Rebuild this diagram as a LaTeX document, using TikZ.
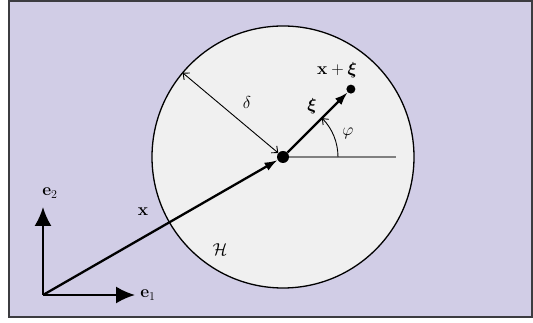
\documentclass[tikz,border=0pt]{standalone}
\usepackage{amsmath,amssymb,bm}
\usetikzlibrary{arrows.meta,calc}
\definecolor{lav}{RGB}{209,205,230}
\definecolor{disc}{RGB}{240,240,240}
\definecolor{frame}{RGB}{60,60,64}
\begin{document}
\begin{tikzpicture}[x=1pt,y=1pt,
  lbl/.style={font=\fontsize{18}{21}\selectfont, inner sep=0pt},
  bigarrow/.style={line width=2pt, -{Latex[length=19pt,width=17pt]}},
  vecarrow/.style={line width=2.3pt, -{Latex[length=13pt,width=9pt]}},
  thinarrow/.style={line width=0.9pt, {Straight Barb[length=5pt,width=9pt]}-{Straight Barb[length=5pt,width=9pt]}},
  bigdot/.style={circle, fill=black, inner sep=0pt, minimum size=12pt},
  smalldot/.style={circle, fill=black, inner sep=0pt, minimum size=9pt}]
\useasboundingbox (0,0) rectangle (533,323);
\draw[frame, line width=2pt, fill=lav] (9,6) rectangle (532,322);
\coordinate (C) at (283,166);
\draw[line width=1.3pt, fill=disc] (C) circle (131);
\draw[line width=1.5pt, gray] (C) -- (396,166);
\coordinate (O) at (43,28);
\coordinate (E1) at (135,28);
\coordinate (E2) at (43,116);
\coordinate (R) at ($(C)+(140:131)$);
\node[bigdot] (c) at (C) {};
\node[smalldot] (p) at ($(C)+(45:96)$) {};
\draw[bigarrow] (O) -- (E1);
\draw[bigarrow] (O) -- (E2);
\draw[vecarrow] (O) -- (c);
\draw[vecarrow] (c) -- (p);
\draw[thinarrow] (R) -- (c);
\draw[line width=0.9pt, -{Straight Barb[length=5pt,width=8pt]}] ($(C)+(55,0)$) arc[start angle=0, end angle=45, radius=55];
\node[lbl] (le1) at (148,28) {$\mathbf{e}_1$};
\node[lbl] (le2) at (50,130) {$\mathbf{e}_2$};
\node[lbl] (lx) at (143,111) {$\mathbf{x}$};
\node[lbl] (lH) at (220,73) {$\mathcal{H}$};
\node[lbl] (ld) at (247,220) {$\delta$};
\node[lbl] (lxi) at (312,217) {$\bm{\xi}$};
\node[lbl] (lxx) at (337,253) {$\mathbf{x}+\bm{\xi}$};
\node[lbl] (lphi) at (348,190) {$\varphi$};
\end{tikzpicture}
\end{document}
